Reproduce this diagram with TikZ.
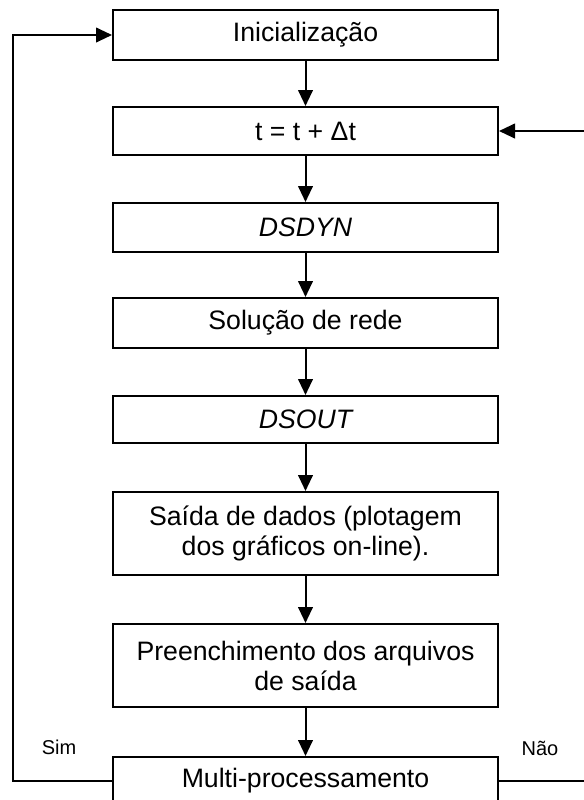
\documentclass[tikz,border=0pt]{standalone}
\usepackage{fontspec}
\setmainfont{Liberation Sans}
\usetikzlibrary{arrows.meta}
\begin{document}
\begin{tikzpicture}[x=0.75pt,y=-0.75pt,
  box/.style={draw,line width=1.5pt,minimum width=288.75pt,inner sep=0pt,align=center,
    font=\fontsize{20}{22.5}\selectfont},
  arr/.style={line width=1.5pt,-{Triangle[length=12pt,width=11pt]}},
  conn/.style={line width=1.5pt},
  lbl/.style={font=\fontsize{15}{18}\selectfont,inner sep=0pt}]
\useasboundingbox (0,0) rectangle (583,800);
\node[box,minimum height=37.5pt] (b1) at (305.5,35) {Inicialização};
\node[box,minimum height=36pt] (b2) at (305.5,131) {t = t + Δt};
\node[box,minimum height=36.75pt] (b3) at (305.5,227.5) {\itshape DSDYN};
\node[box,minimum height=37.5pt] (b4) at (305.5,323) {Solução de rede};
\node[box,minimum height=35.25pt] (b5) at (305.5,419.5) {\itshape DSOUT};
\node[box,minimum height=62.25pt] (b6) at (305.5,533.5) {Saída de dados (plotagem\\dos gráficos on-line).};
\node[box,minimum height=62.25pt] (b7) at (305.5,665.5) {Preenchimento dos arquivos\\de saída};
\node[box,minimum height=36pt] (b8) at (305.5,781) {Multi-processamento};
\draw[arr] (b1) -- (b2);
\draw[arr] (b2) -- (b3);
\draw[arr] (b3) -- (b4);
\draw[arr] (b4) -- (b5);
\draw[arr] (b5) -- (b6);
\draw[arr] (b6) -- (b7);
\draw[arr] (b7) -- (b8);
\coordinate (L) at (13,781);
\draw[arr] (b8.west) -- (L) |- (b1.west);
\coordinate (R1) at (584,781);
\draw[conn] (b8.east) -- (R1);
\coordinate (R2) at (584,131);
\draw[arr] (R2) -- (b2.east);
\node[lbl] (sim) at (59,747) {Sim};
\node[lbl] (nao) at (540,748) {Não};
\end{tikzpicture}
\end{document}
